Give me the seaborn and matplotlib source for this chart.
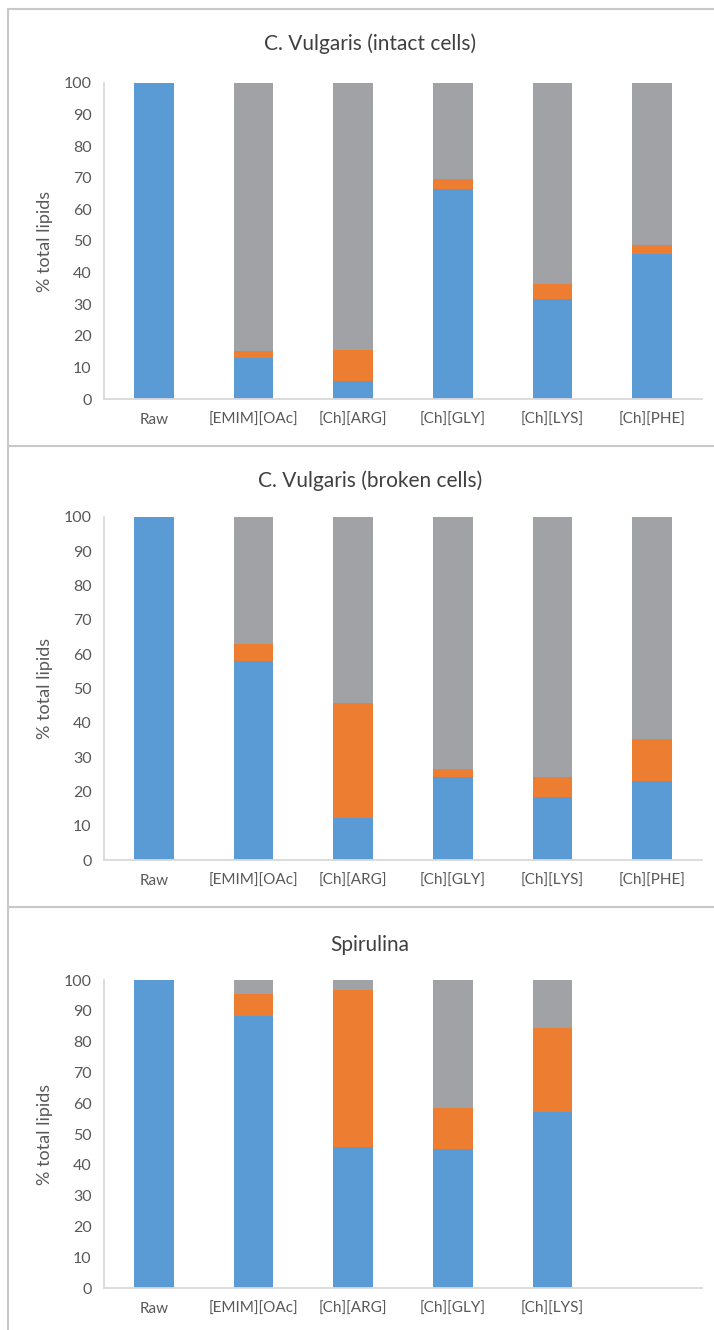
import numpy as np
import pandas as pd
import matplotlib
matplotlib.use("Agg")
import matplotlib.pyplot as plt
from matplotlib.lines import Line2D
import seaborn as sns

# categories
categories = ["Raw", "[EMIM][OAc]", "[Ch][ARG]", "[Ch][GLY]", "[Ch][LYS]", "[Ch][PHE]"]
categories_spirulina = ["Raw", "[EMIM][OAc]", "[Ch][ARG]", "[Ch][GLY]", "[Ch][LYS]"]

# segment values (% total lipids), bottom -> top: blue, orange, gray
intact_blue = [100, 12.9, 5.8, 66.6, 31.8, 45.8]
intact_orange = [0, 2.4, 9.8, 3.1, 4.5, 2.8]
intact_gray = [0, 84.7, 84.4, 30.3, 63.7, 51.4]

broken_blue = [100, 58.1, 12.1, 24.2, 18.4, 23.1]
broken_orange = [0, 4.9, 33.7, 2.3, 5.7, 12.3]
broken_gray = [0, 37.0, 54.2, 73.5, 75.9, 64.6]

spirulina_blue = [100, 88.2, 45.9, 45.0, 57.0]
spirulina_orange = [0, 7.1, 51.0, 13.3, 27.3]
spirulina_gray = [0, 4.7, 3.1, 41.7, 15.7]

titles = ["C. Vulgaris (intact cells)", "C. Vulgaris (broken cells)", "Spirulina"]

BLUE = "#5B9BD5"
ORANGE = "#ED7D31"
GRAY = "#A0A2A5"
AXIS = "#D9D9D9"
TEXT = "#595959"

sns.set_theme(style="white")
plt.rcParams["font.family"] = ["Lato", "DejaVu Sans"]

W, H = 714, 1330
fig = plt.figure(figsize=(W / 100, H / 100), dpi=100)

panels = [
    (categories, intact_blue, intact_orange, intact_gray, 83, 399, 44),
    (categories, broken_blue, broken_orange, broken_gray, 517, 860, 481),
    (categories_spirulina, spirulina_blue, spirulina_orange, spirulina_gray, 980, 1288, 945),
]

left_px, right_px = 104, 702
for i, (cats, blue, orange, gray, top_px, bot_px, title_px) in enumerate(panels):
    ax = fig.add_axes([left_px / W, 1 - bot_px / H, (right_px - left_px) / W, (bot_px - top_px) / H])
    df = pd.DataFrame({"cat": cats, "blue": blue, "orange": orange, "gray": gray})
    df["lvl2"] = df["blue"] + df["orange"]
    df["lvl3"] = df["lvl2"] + df["gray"]
    order = cats + [" "] * (6 - len(cats))

    sns.barplot(data=df, x="cat", y="lvl3", order=order, color=GRAY, width=0.4, linewidth=0, saturation=1, ax=ax)
    sns.barplot(data=df, x="cat", y="lvl2", order=order, color=ORANGE, width=0.4, linewidth=0, saturation=1, ax=ax)
    sns.barplot(data=df, x="cat", y="blue", order=order, color=BLUE, width=0.4, linewidth=0, saturation=1, ax=ax)

    ax.set_xlim(-0.5, 5.5)
    ax.set_ylim(0, 100)
    ax.set_yticks(np.arange(0, 101, 10))
    ax.set_xlabel("")
    ax.set_ylabel("")
    for s in ["top", "right"]:
        ax.spines[s].set_visible(False)
    for s in ["left", "bottom"]:
        ax.spines[s].set_color(AXIS)
        ax.spines[s].set_linewidth(1.3)
    ax.tick_params(axis="y", length=4, width=1.3, color=AXIS, labelcolor=TEXT, labelsize=11.5, pad=5)
    ax.tick_params(axis="x", length=0, labelcolor=TEXT, labelsize=11, pad=10)

    fig.text(370 / W, 1 - title_px / H, titles[i], ha="center", va="center", fontsize=15, color="#404040")
    fig.text(45 / W, 1 - (top_px + bot_px) / 2 / H, "% total lipids", rotation=90,
             ha="center", va="center", fontsize=13, color=TEXT)

# chart area borders
for y in [9, 446, 907]:
    fig.add_artist(Line2D([8 / W, 1], [1 - y / H, 1 - y / H], color="#C8C8C8", lw=1.5))
fig.add_artist(Line2D([8 / W, 8 / W], [0, 1 - 9 / H], color="#C8C8C8", lw=1.5))

fig.savefig("out.png", dpi=100)
